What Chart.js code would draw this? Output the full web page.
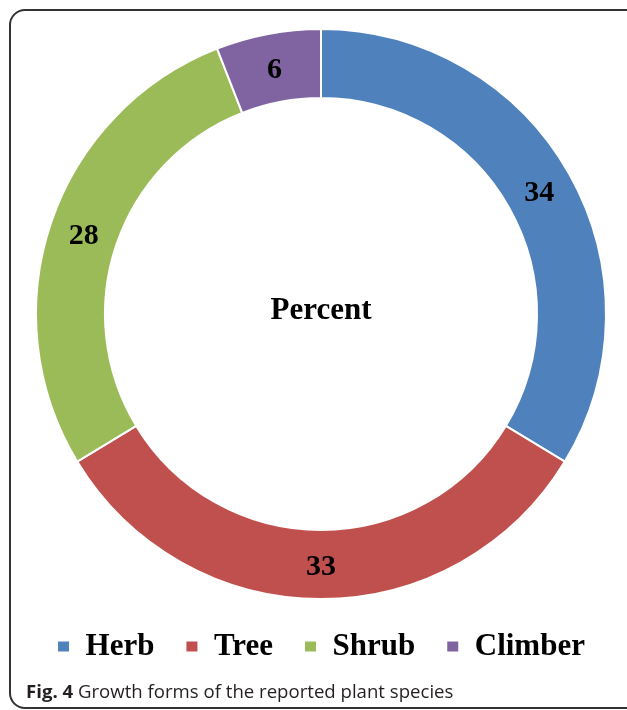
<!DOCTYPE html>
<html>
<head>
<meta charset="utf-8">
<script src="https://cdn.jsdelivr.net/npm/chart.js@4"></script>
<style>
    body { margin: 0; width: 627px; height: 710px; overflow: hidden; background: #fff; position: relative; }
    #moldura {
        position: absolute; left: 9px; top: 9px; width: 660px; height: 700px;
        box-sizing: border-box; border: 2px solid #333; border-radius: 16px;
    }
    #area { position: absolute; left: 0; top: 0; width: 627px; height: 680px; }
    #legenda-fig {
        position: absolute; left: 26px; top: 679px; line-height: 24px;
        font-family: "Open Sans", sans-serif; font-size: 18.6px; color: #231f20; white-space: nowrap;
    }
    #legenda-fig b { font-weight: 700; }
</style>
</head>
<body>
<div id="moldura"></div>
<div id="area"><canvas id="myChart" width="627" height="680"></canvas></div>
<div id="legenda-fig"><b>Fig. 4</b> Growth forms of the reported plant species</div>

<script>
const categorias = ["Herb", "Tree", "Shrub", "Climber"];
const valores = [34, 33, 28, 6];
const cores = ["#4f81bd", "#c0504d", "#9bbb59", "#8064a2"];
const tituloCentro = "Percent";

const fonteSerif = "'Liberation Serif', 'Times New Roman', serif";

// rotulos de valor e texto central
const rotulosPlugin = {
    id: "rotulos",
    afterDatasetsDraw(chart) {
        const c = chart.ctx;
        const meta = chart.getDatasetMeta(0);
        c.save();
        c.fillStyle = "#000";
        c.textAlign = "center";
        c.textBaseline = "alphabetic";
        c.font = "bold 30px " + fonteSerif;
        meta.data.forEach((arc, i) => {
            const p = arc.tooltipPosition();
            c.fillText(String(valores[i]), p.x, p.y + 10.5);
        });
        const arc0 = meta.data[0];
        c.font = "bold 31px " + fonteSerif;
        c.fillText(tituloCentro, arc0.x, arc0.y + 5);
        c.restore();
    }
};

const ctx = document.getElementById("myChart");

new Chart(ctx, {
    type: "doughnut",
    data: {
        labels: categorias,
        datasets: [{
            data: valores,
            backgroundColor: cores,
            borderColor: "#ffffff",
            borderWidth: 2,
            hoverOffset: 0
        }]
    },
    options: {
        responsive: false,
        animation: false,
        cutout: "75.8%",
        layout: { padding: { left: 15, right: 0, top: 28, bottom: 8 } },
        plugins: {
            legend: {
                position: "bottom",
                labels: {
                    color: "#000",
                    boxWidth: 13,
                    boxHeight: 12,
                    padding: 31,
                    font: { family: fonteSerif, size: 31, weight: "bold" }
                }
            },
            tooltip: { enabled: false }
        }
    },
    plugins: [rotulosPlugin]
});
</script>
</body>
</html>
